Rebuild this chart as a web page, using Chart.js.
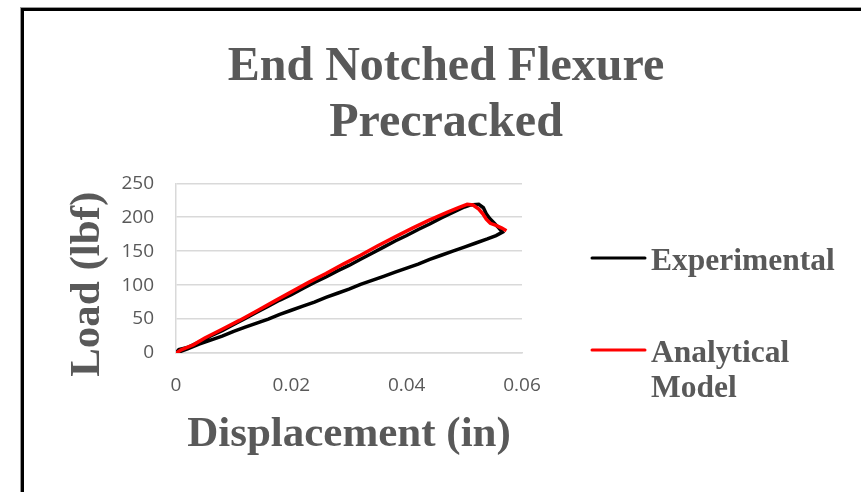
<!DOCTYPE html>
<html>
<head>
<meta charset="utf-8">
<title>End Notched Flexure Precracked</title>
<script src="https://cdn.jsdelivr.net/npm/chart.js@4/dist/chart.umd.min.js"></script>
<style>
  html, body { margin: 0; padding: 0; background: #ffffff; }
  #wrap { position: relative; width: 861px; height: 492px; overflow: hidden; background: #ffffff; }
  #chart { position: absolute; left: 0; top: 0; }
  .frame { position: absolute; left: 20px; top: 7px; width: 900px; height: 600px;
           border-left: 1px solid #9a9a9a; border-top: 1px solid #9a9a9a; pointer-events: none; }
  .frame::after { content: ''; position: absolute; left: 0; top: 0; right: 0; bottom: 0;
                  border-left: 3px solid #000; border-top: 3px solid #000; }
</style>
</head>
<body>
<div id="wrap">
  <canvas id="chart" width="861" height="492"></canvas>
  <div class="frame"></div>
</div>
<script>
// Experimental load–displacement trace: loading branch, peak, crack drop, unloading branch
const expDisp = [
  0, 0.0005, 0.002, 0.004, 0.006, 0.008, 0.010, 0.012, 0.014, 0.016, 0.018, 0.020,
  0.022, 0.024, 0.026, 0.028, 0.030, 0.032, 0.034, 0.036, 0.038, 0.040, 0.042, 0.044,
  0.046, 0.048, 0.050, 0.051, 0.0525, 0.0533, 0.0538, 0.0544, 0.0552, 0.0560, 0.0566,
  0.0555, 0.054, 0.052, 0.050, 0.048, 0.046, 0.044, 0.042, 0.040, 0.038, 0.036, 0.034,
  0.032, 0.030, 0.028, 0.026, 0.024, 0.022, 0.020, 0.018, 0.016, 0.014, 0.012, 0.010,
  0.008, 0.006, 0.004, 0.002, 0
];
const expLoad = [
  0, 5, 8, 16, 25, 33, 42, 51, 60, 69, 78, 86,
  95, 104, 112, 121, 129, 138, 147, 156, 165, 173, 182, 190,
  199, 207, 215, 218, 219, 214, 205, 198, 191, 184, 178,
  173, 168, 162, 156, 150, 144, 138, 131, 125, 119, 113, 107,
  101, 94, 88, 82, 75, 69, 63, 57, 50, 44, 38, 32,
  25, 19, 13, 6, 0
];

// Analytical model prediction
const modelDisp = [
  0, 0.001, 0.003, 0.005, 0.008, 0.011, 0.014, 0.017, 0.020, 0.023, 0.026, 0.029,
  0.032, 0.035, 0.038, 0.041, 0.044, 0.047, 0.049, 0.0505, 0.0515, 0.0525, 0.0532,
  0.0538, 0.0545, 0.0555, 0.0565, 0.0573
];
const modelLoad = [
  0, 5, 12, 22, 35, 48, 62, 76, 90, 104, 117, 131,
  144, 158, 171, 184, 196, 207, 214, 219, 218, 212, 205,
  197, 191, 188, 184, 180
];

const seriesNames = ['Experimental', 'Analytical Model'];
const seriesColors = ['#000000', '#ff0000'];

const xTicks = [0, 0.02, 0.04, 0.06];
const yTicks = [0, 50, 100, 150, 200, 250];

const titleLines = ['End Notched Flexure', 'Precracked'];
const xTitle = 'Displacement (in)';
const yTitle = 'Load (lbf)';

const TEXT = '#595959';
const GRID = '#d9d9d9';
const SERIF = "'Liberation Serif', 'Times New Roman', serif";
const SANS = "'Open Sans', 'Liberation Sans', sans-serif";

const toPoints = (xs, ys) => xs.map((x, i) => ({ x: x, y: ys[i] }));

// Legend at the right of the plot, with wrapped labels
const sideLegend = {
  id: 'sideLegend',
  afterDraw(chart) {
    const ctx = chart.ctx;
    const lineX0 = 592, lineX1 = 645, textX = 651, maxW = 205, lineGap = 35;
    const baselines = [270, 362];
    ctx.save();
    ctx.font = 'bold 31.5px ' + SERIF;
    ctx.textBaseline = 'alphabetic';
    ctx.textAlign = 'left';
    chart.data.datasets.forEach((ds, i) => {
      const base = baselines[i];
      ctx.strokeStyle = ds.borderColor;
      ctx.lineWidth = 3;
      ctx.lineCap = 'round';
      ctx.beginPath();
      ctx.moveTo(lineX0, base - 12);
      ctx.lineTo(lineX1, base - 12);
      ctx.stroke();
      // wrap words to the available width
      const words = ds.label.split(' ');
      const lines = [];
      let cur = '';
      words.forEach(w => {
        const t = cur ? cur + ' ' + w : w;
        if (cur && ctx.measureText(t).width > maxW) { lines.push(cur); cur = w; }
        else cur = t;
      });
      if (cur) lines.push(cur);
      ctx.fillStyle = TEXT;
      lines.forEach((ln, k) => ctx.fillText(ln, textX, base + k * lineGap));
    });
    ctx.restore();
  }
};

new Chart(document.getElementById('chart'), {
  type: 'scatter',
  data: {
    datasets: [
      {
        label: seriesNames[0],
        data: toPoints(expDisp, expLoad),
        showLine: true,
        borderColor: seriesColors[0],
        backgroundColor: seriesColors[0],
        borderWidth: 3.5,
        pointRadius: 0,
        tension: 0,
        order: 2
      },
      {
        label: seriesNames[1],
        data: toPoints(modelDisp, modelLoad),
        showLine: true,
        borderColor: seriesColors[1],
        backgroundColor: seriesColors[1],
        borderWidth: 3.5,
        pointRadius: 0,
        tension: 0,
        order: 1
      }
    ]
  },
  options: {
    responsive: false,
    animation: false,
    layout: { padding: { left: 31, top: 10, right: 0, bottom: 0 } },
    plugins: {
      legend: { display: false },
      tooltip: { enabled: false },
      title: {
        display: true,
        text: titleLines,
        color: TEXT,
        font: { family: SERIF, size: 48, weight: 'bold', lineHeight: 1.18 },
        padding: { top: 29, bottom: 31 }
      }
    },
    scales: {
      x: {
        type: 'linear',
        min: 0,
        max: 0.06,
        afterBuildTicks: s => { s.ticks = xTicks.map(v => ({ value: v })); },
        afterFit: s => { s.height = 139; },
        ticks: {
          color: TEXT,
          font: { family: SANS, size: 19 },
          padding: 21,
          maxRotation: 0,
          callback: v => String(Math.round(v * 100) / 100)
        },
        grid: { display: false, drawTicks: false },
        border: { display: true, color: GRID, width: 1.5 },
        title: {
          display: true,
          text: xTitle,
          color: TEXT,
          font: { family: SERIF, size: 43, weight: 'bold', lineHeight: 1.2 },
          padding: { top: 0, bottom: 31 }
        }
      },
      y: {
        type: 'linear',
        min: 0,
        max: 250,
        afterBuildTicks: s => { s.ticks = yTicks.map(v => ({ value: v })); },
        afterFit: s => { s.width = 145; },
        ticks: {
          color: TEXT,
          font: { family: SANS, size: 19 },
          padding: 22,
          callback: v => String(v)
        },
        grid: { color: GRID, lineWidth: 1.5, drawTicks: false },
        border: { display: true, color: GRID, width: 1.5 },
        title: {
          display: true,
          text: yTitle + '\u00a0\u00a0\u00a0',
          color: TEXT,
          font: { family: SERIF, size: 43, weight: 'bold', lineHeight: 1.2 },
          padding: { top: 31, bottom: 0 }
        }
      },
      // keeps the space at the right of the plot free for the legend
      legendSpace: {
        type: 'linear',
        position: 'right',
        display: true,
        afterFit: s => { s.width = 339; },
        ticks: { display: false },
        grid: { display: false, drawTicks: false },
        border: { display: false }
      }
    }
  },
  plugins: [sideLegend]
});
</script>
</body>
</html>
